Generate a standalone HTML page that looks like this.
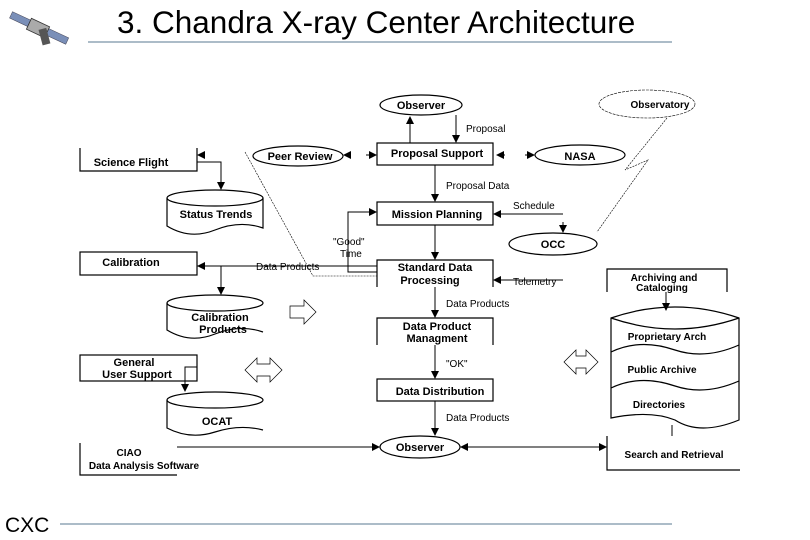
<!DOCTYPE html>
<html><head><meta charset="utf-8"><style>
body{margin:0;background:#fff}
svg{display:block}
text{font-family:"Liberation Sans",sans-serif}
.b{font-weight:bold;font-size:11px}
.l{font-size:10px}
</style></head><body>
<svg width="810" height="540" viewBox="0 0 810 540" xmlns="http://www.w3.org/2000/svg">
<defs>
<marker id="a" markerWidth="8" markerHeight="8" refX="7" refY="4" orient="auto" markerUnits="userSpaceOnUse"><path d="M0,0 L8,4 L0,8 z" fill="#000"/></marker>
</defs>
<g transform="translate(38,28) rotate(25)">
<rect x="-30" y="-4" width="20" height="7" fill="#7a8fb8" stroke="#445" stroke-width="0.5"/>
<rect x="10" y="-4" width="22" height="7" fill="#7a8fb8" stroke="#445" stroke-width="0.5"/>
<rect x="-10" y="-6" width="20" height="12" fill="#aaa" stroke="#333" stroke-width="0.8"/>
<rect x="0" y="2" width="8" height="16" fill="#555" transform="rotate(-40)"/>
</g>
<text x="117" y="33" font-size="31.5" fill="#000">3. Chandra X-ray Center Architecture</text>
<line x1="88" y1="42" x2="672" y2="42" stroke="#5a7a90" stroke-width="1"/>
<text x="5" y="532" font-size="21">CXC</text>
<line x1="60" y1="524" x2="672" y2="524" stroke="#5a7a90" stroke-width="1"/>

<g fill="none" stroke="#000" stroke-width="1.2">
<ellipse cx="421" cy="105" rx="41" ry="10"/>
<ellipse cx="298" cy="156" rx="45" ry="10"/>
<ellipse cx="580" cy="155" rx="45" ry="10"/>
<ellipse cx="553" cy="244" rx="44" ry="11"/>
<ellipse cx="420" cy="447" rx="40" ry="11"/>
<ellipse cx="647" cy="104" rx="48" ry="14" stroke-width="0.6" stroke-dasharray="3,1"/>
<rect x="377" y="143" width="116" height="22"/>
<rect x="377" y="202" width="116" height="23"/>
<path d="M377,287 V260 H493 V287"/>
<path d="M377,345 V318 H493 V345"/>
<rect x="377" y="379" width="116" height="22"/>
<path d="M80,148 V171 H197 V148"/>
<rect x="80" y="252" width="117" height="23"/>
<rect x="80" y="355" width="117" height="26"/>
<path d="M80,443 V475 H177"/>
<path d="M607,292 V269 H727 V292"/>
<path d="M607,436 V470 H740"/>
<ellipse cx="215" cy="198" rx="48" ry="8"/><path d="M167,198 V226 Q190,240 215,230 Q240,220 263,228 V198"/>
<ellipse cx="215" cy="303" rx="48" ry="8"/><path d="M167,303 V330 Q190,344 215,334 Q240,324 263,332"/>
<ellipse cx="215" cy="400" rx="48" ry="8"/><path d="M167,400 V428 Q190,440 215,432 Q240,424 263,430"/>
<path d="M611,318 Q675,296 739,318 V420 Q700,436 675,420 Q650,410 611,418 Z"/>
<path d="M611,318 Q675,340 739,318"/>
<path d="M611,352 Q640,338 675,350 Q705,360 739,345"/>
<path d="M611,388 Q640,374 675,386 Q705,396 739,381"/>
<path d="M290,306 H304 V300 L316,312 L304,324 V318 H290 Z" stroke-width="0.7"/>
<path d="M245,370 L257,358 V364 H270 V358 L282,370 L270,382 V376 H257 V382 Z" stroke-width="0.7"/>
<path d="M564,362 L576,350 V356 H586 V350 L598,362 L586,374 V368 H576 V374 Z" stroke-width="0.7"/>
</g>

<g stroke="#000" stroke-width="1" fill="none">
<line x1="410" y1="143" x2="410" y2="117" marker-end="url(#a)"/>
<line x1="456" y1="115" x2="456" y2="142" marker-end="url(#a)"/>
<line x1="435" y1="165" x2="435" y2="201" marker-end="url(#a)"/>
<line x1="435" y1="225" x2="435" y2="259" marker-end="url(#a)"/>
<line x1="435" y1="287" x2="435" y2="317" marker-end="url(#a)"/>
<line x1="435" y1="345" x2="435" y2="378" marker-end="url(#a)"/>
<line x1="435" y1="401" x2="435" y2="435" marker-end="url(#a)"/>
<line x1="350" y1="155" x2="344" y2="155" marker-end="url(#a)"/>
<line x1="366" y1="155" x2="376" y2="155" marker-end="url(#a)"/>
<line x1="505" y1="155" x2="497" y2="155" marker-end="url(#a)"/>
<line x1="525" y1="155" x2="534" y2="155" marker-end="url(#a)"/>
<line x1="563" y1="214" x2="494" y2="214" marker-end="url(#a)"/>
<line x1="563" y1="280" x2="494" y2="280" marker-end="url(#a)"/>
<line x1="563" y1="222" x2="563" y2="232" marker-end="url(#a)"/>
<path d="M377,272 H348 V212 H376" marker-end="url(#a)"/>
<path d="M377,266 H198" marker-end="url(#a)"/>
<line x1="205" y1="155" x2="198" y2="155" marker-end="url(#a)"/>
<path d="M197,162 H221 V189" marker-end="url(#a)"/>
<path d="M197,266 H221 V294" marker-end="url(#a)"/>
<path d="M197,367 H185 V391" marker-end="url(#a)"/>
<line x1="177" y1="447" x2="379" y2="447" marker-end="url(#a)"/>
<line x1="606" y1="447" x2="461" y2="447" marker-end="url(#a)"/>
<line x1="470" y1="447" x2="606" y2="447" marker-end="url(#a)"/>
<line x1="666" y1="292" x2="666" y2="310" marker-end="url(#a)"/>
<line x1="672" y1="425" x2="672" y2="436"/>
<path d="M245,152 L313,276 H377" stroke-width="0.6" stroke-dasharray="2,1"/>
<path d="M667,118 L625,170 L648,160 L597,232" stroke-width="0.6" stroke-dasharray="2,1"/>
</g>

<g class="b" text-anchor="middle">
<text x="421" y="109">Observer</text>
<text x="660" y="108" font-size="10">Observatory</text>
<text x="300" y="160">Peer Review</text>
<text x="580" y="160">NASA</text>
<text x="553" y="248">OCC</text>
<text x="420" y="451">Observer</text>
<text x="437" y="157">Proposal Support</text>
<text x="437" y="218">Mission Planning</text>
<text x="435" y="271">Standard Data</text>
<text x="430" y="284">Processing</text>
<text x="437" y="330">Data Product</text>
<text x="437" y="342">Managment</text>
<text x="440" y="395">Data Distribution</text>
<text x="131" y="166">Science Flight</text>
<text x="131" y="266">Calibration</text>
<text x="134" y="366">General</text>
<text x="137" y="378">User Support</text>
<text x="129" y="456" font-size="10">CIAO</text>
<text x="144" y="469" font-size="10">Data Analysis Software</text>
<text x="216" y="218">Status Trends</text>
<text x="220" y="321">Calibration</text>
<text x="223" y="333">Products</text>
<text x="217" y="425">OCAT</text>
<text x="664" y="281" font-size="10">Archiving and</text>
<text x="662" y="291" font-size="10">Cataloging</text>
<text x="667" y="340" font-size="10">Proprietary Arch</text>
<text x="662" y="373" font-size="10">Public Archive</text>
<text x="659" y="408" font-size="10">Directories</text>
<text x="674" y="458" font-size="10">Search and Retrieval</text>
</g>
<g class="l">
<text x="466" y="132">Proposal</text>
<text x="446" y="189">Proposal Data</text>
<text x="513" y="209">Schedule</text>
<text x="513" y="285">Telemetry</text>
<text x="333" y="245">"Good"</text>
<text x="340" y="257">Time</text>
<text x="256" y="270">Data Products</text>
<text x="446" y="307">Data Products</text>
<text x="446" y="367">"OK"</text>
<text x="446" y="421">Data Products</text>
</g>
</svg>
</body></html>
